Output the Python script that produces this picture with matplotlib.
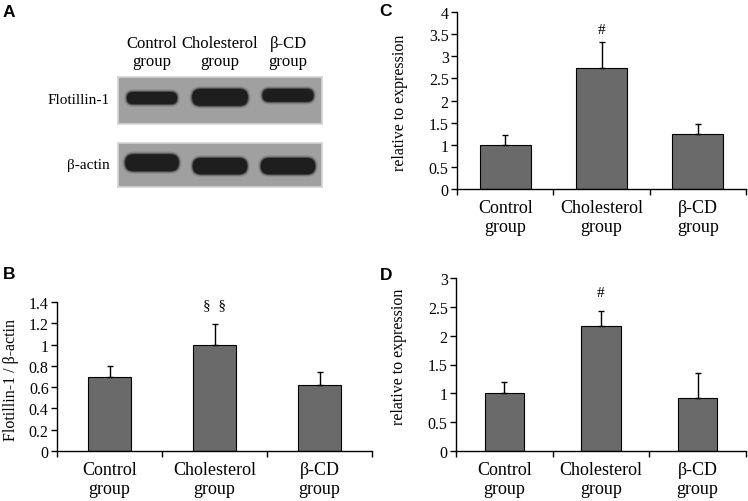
import numpy as np
import matplotlib
matplotlib.use('Agg')
import matplotlib.pyplot as plt
from matplotlib.patches import FancyBboxPatch

plt.rcParams['font.family'] = ['Liberation Serif', 'DejaVu Serif']

groups = ['Control\ngroup', 'Cholesterol\ngroup', 'β-CD\ngroup']
lanes = ['Control\ngroup', 'Cholesterol\ngroup', 'β-CD\ngroup']

# B - flotillin-1 / beta-actin ratio
ratio_b = [0.70, 1.00, 0.62]
err_b = [0.10, 0.19, 0.12]
# C - relative expression
expr_c = [1.00, 2.73, 1.24]
err_c = [0.21, 0.60, 0.22]
# D - relative expression
expr_d = [1.00, 2.17, 0.92]
err_d = [0.20, 0.26, 0.43]

# western blot bands, in lane units: width, thickness, centre below top edge
flot_w = [0.74, 0.82, 0.75]
flot_h = [0.18, 0.25, 0.19]
flot_y = [0.31, 0.30, 0.27]
actin_w = [0.79, 0.80, 0.80]
actin_h = [0.25, 0.24, 0.24]
actin_y = [0.29, 0.34, 0.34]

W, H = 748, 502
fig = plt.figure(figsize=(W / 100, H / 100), dpi=100)


def px_axes(l, t, r, b):
    return fig.add_axes([l / W, 1 - b / H, (r - l) / W, (b - t) / H])


def blot(ax, widths, heights, offsets, box_w, box_h):
    hu = 3 * box_h / box_w
    ax.set_xlim(-0.5, 2.5)
    ax.set_ylim(hu, 0)
    ax.set_facecolor('#a0a0a0')
    for i in range(3):
        # a few soft layers so the band edges look blurred
        for grow, a in [(0.08, 0.12), (0.05, 0.22), (0.025, 0.45), (0.0, 1.0)]:
            w = widths[i] + grow
            h = heights[i] + grow
            p = FancyBboxPatch((i - w / 2, offsets[i] - h / 2), w, h,
                               boxstyle='round,pad=0,rounding_size=%f' % (h / 2),
                               fc='#1e1e1e', ec='none', alpha=a)
            ax.add_patch(p)
    ax.set_xticks([])
    ax.set_yticks([])
    for s in ax.spines.values():
        s.set_color('#d4d4d4')
        s.set_linewidth(1.2)


def bar_panel(ax, vals, errs, ymax, step, bw):
    x = np.arange(len(groups))
    ax.bar(x, vals, width=bw, color='#6a6a6a', edgecolor='black',
           linewidth=0.8, zorder=2)
    ax.errorbar(x, vals, yerr=[np.zeros(len(vals)), errs], fmt='none',
                ecolor='black', elinewidth=1, capsize=2.5, capthick=1, zorder=3)
    ax.set_xlim(-0.5, 2.5)
    ax.set_ylim(0, ymax)
    ticks = np.arange(0, ymax + step / 2, step)
    ax.set_yticks(ticks)
    ax.set_yticklabels(['%g' % round(t, 2) for t in ticks], fontsize=11.5)
    ax.set_xticks(x)
    ax.set_xticklabels(groups, fontsize=13, linespacing=1.15)
    ax.set_xticks([-0.5, 0.5, 1.5, 2.5], minor=True)
    ax.tick_params(axis='x', which='major', length=0, pad=7)
    ax.tick_params(axis='x', which='minor', length=4, width=1, direction='out')
    ax.tick_params(axis='y', length=4, width=1, direction='out', pad=2)
    for s in ['top', 'right']:
        ax.spines[s].set_visible(False)
    for s in ['left', 'bottom']:
        ax.spines[s].set_linewidth(1)


# panel A
ax_f = px_axes(118, 78, 322, 125)
blot(ax_f, flot_w, flot_h, flot_y, 204, 47)
ax_a = px_axes(118, 144, 322, 188)
blot(ax_a, actin_w, actin_h, actin_y, 204, 44)
for i, name in enumerate(lanes):
    ax_f.text(i, 1.53, name, transform=ax_f.get_xaxis_transform(),
              ha='center', va='center', fontsize=12, linespacing=1.15)
fig.text(110 / W, 1 - 100 / H, 'Flotillin-1', ha='right', va='center', fontsize=11)
fig.text(110 / W, 1 - 166 / H, 'β-actin', ha='right', va='center', fontsize=11)

# panel B
ax_b = px_axes(57, 303, 372, 452)
bar_panel(ax_b, ratio_b, err_b, 1.4, 0.2, 0.41)
ax_b.set_ylabel('Flotillin-1 / β-actin', fontsize=11.5)
ax_b.yaxis.set_label_coords(-0.12, 0.48)
ax_b.annotate('§  §', (1, ratio_b[1] + err_b[1]), xytext=(0, 14),
              textcoords='offset points', ha='center', va='center', fontsize=11)

# panel C
ax_c = px_axes(457, 13, 746, 190)
bar_panel(ax_c, expr_c, err_c, 4, 0.5, 0.53)
ax_c.set_ylabel('relative to expression', fontsize=11.5)
ax_c.yaxis.set_label_coords(-0.17, 0.49)
ax_c.annotate('#', (1, expr_c[1] + err_c[1]), xytext=(0, 9),
              textcoords='offset points', ha='center', va='center', fontsize=11)

# panel D
ax_d = px_axes(456, 279, 746, 452)
bar_panel(ax_d, expr_d, err_d, 3, 0.5, 0.41)
ax_d.set_ylabel('relative to expression', fontsize=11.5)
ax_d.yaxis.set_label_coords(-0.17, 0.55)
ax_d.annotate('#', (1, expr_d[1] + err_d[1]), xytext=(0, 13.5),
              textcoords='offset points', ha='center', va='center', fontsize=11)

# panel letters
for lab, px, py in [('A', 9, 12.5), ('B', 9, 275), ('C', 386, 11), ('D', 386, 276)]:
    fig.text(px / W, 1 - py / H, lab, ha='center', va='center', fontsize=12.5,
             fontweight='bold', family=['Liberation Sans', 'DejaVu Sans'])

fig.savefig('out.png', dpi=100)
